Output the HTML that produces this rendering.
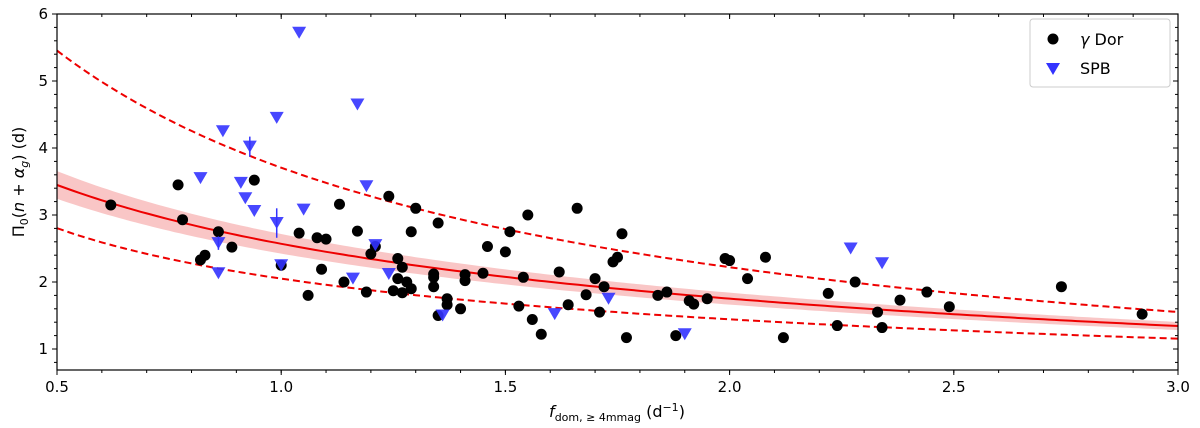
<!DOCTYPE html>
<html><head><meta charset="utf-8"><style>
html,body{margin:0;padding:0;background:#fff;}
svg{display:block;font-family:"DejaVu Sans","Liberation Sans",sans-serif;}
</style></head><body>
<svg id="chart" width="1200" height="428" viewBox="0 0 1200 428">
<g id="band"></g>
<g id="lines"></g>
<g id="points"></g>
<g id="axes"></g>
<g>
<rect x="1030" y="19" width="140" height="68" rx="3" fill="#fff" stroke="#ccc"/>
<circle cx="1053" cy="39" r="5.5" fill="#000"/>
<text x="1080" y="45" font-size="16"><tspan font-style="italic">γ</tspan> Dor</text>
<path d="M1046,63 L1060,63 L1053,75 Z" fill="#3333ff"/>
<text x="1080" y="74" font-size="16">SPB</text>
</g>
<text x="617" y="417" font-size="16" text-anchor="middle"><tspan font-style="italic">f</tspan><tspan font-size="11" dy="4">dom, ≥ 4mmag</tspan><tspan dy="-4"> (d</tspan><tspan font-size="11" dy="-6">−1</tspan><tspan dy="6">)</tspan></text>
<text transform="translate(24,182) rotate(-90)" font-size="16" text-anchor="middle">Π<tspan font-size="11" dy="4">0</tspan><tspan dy="-4">(</tspan><tspan font-style="italic">n</tspan> + <tspan font-style="italic">α</tspan><tspan font-size="11" dy="4" font-style="italic">g</tspan><tspan dy="-4">) (d)</tspan></text>
</svg>
<script>
const gdorX=[0.62,0.77,0.78,0.82,0.83,0.86,0.89,0.94,1.0,1.04,1.06,1.08,1.09,1.1,1.13,1.14,1.17,1.19,1.2,1.21,1.24,1.25,1.26,1.26,1.27,1.27,1.28,1.29,1.29,1.3,1.34,1.34,1.34,1.35,1.35,1.37,1.37,1.4,1.41,1.41,1.45,1.46,1.5,1.51,1.53,1.54,1.55,1.56,1.58,1.62,1.64,1.66,1.68,1.7,1.71,1.72,1.74,1.75,1.76,1.77,1.84,1.86,1.88,1.91,1.92,1.95,1.99,2.0,2.04,2.08,2.12,2.22,2.24,2.28,2.33,2.34,2.38,2.44,2.49,2.74,2.92];
const gdorY=[3.15,3.45,2.93,2.33,2.4,2.75,2.52,3.52,2.25,2.73,1.8,2.66,2.19,2.64,3.16,2.0,2.76,1.85,2.42,2.53,3.28,1.87,2.35,2.05,1.84,2.22,2.0,2.75,1.9,3.1,2.12,2.07,1.93,1.5,2.88,1.66,1.75,1.6,2.11,2.02,2.13,2.53,2.45,2.75,1.64,2.07,3.0,1.44,1.22,2.15,1.66,3.1,1.81,2.05,1.55,1.93,2.3,2.37,2.72,1.17,1.8,1.85,1.2,1.72,1.67,1.75,2.35,2.32,2.05,2.37,1.17,1.83,1.35,2.0,1.55,1.32,1.73,1.85,1.63,1.93,1.52];
const spbX=[0.82,0.86,0.86,0.87,0.91,0.92,0.93,0.94,0.99,0.99,1.0,1.04,1.05,1.16,1.17,1.19,1.21,1.24,1.36,1.61,1.73,1.9,2.27,2.34];
const spbY=[3.55,2.58,2.13,4.25,3.48,3.25,4.02,3.06,4.45,2.88,2.25,5.72,3.08,2.05,4.65,3.43,2.55,2.12,1.5,1.52,1.75,1.22,2.5,2.28];
const spbErr=[0,0.1,0,0,0,0,0.15,0,0,0.22,0,0,0,0,0,0,0,0,0,0,0,0,0,0];
// log-log quadratic fit coefficients: ln y = A + B ln x + C (ln x)^2
const fitMid=[0.944,-0.4885,-0.093], fitUp=[1.310,-0.648,-0.131], fitLo=[0.718,-0.479,-0.040];
const xTicks=[0.5,1.0,1.5,2.0,2.5,3.0];
const yTicks=[1,2,3,4,5,6];
const NS="http://www.w3.org/2000/svg";
const X0=57,X1=1178,Y0=14,Y1=370;
const sx=v=>X0+(v-0.5)/2.5*(X1-X0);
const sy=v=>349-(v-1)*67;
function mk(t,a,p){const e=document.createElementNS(NS,t);for(const k in a)e.setAttribute(k,a[k]);p.appendChild(e);return e;}
const f=(c,x)=>{const u=Math.log(x);return Math.exp(c[0]+c[1]*u+c[2]*u*u);};
const bw=x=>0.06-0.006*(x-0.5);
function path(c,s){let d="";for(let i=0;i<=200;i++){const x=0.5+2.5*i/200;d+=(i?"L":"M")+sx(x).toFixed(1)+","+sy(f(c,x)*(1+s*bw(x))).toFixed(1);}return d;}
const band=document.getElementById('band');
let bd=path(fitMid,1);
for(let i=200;i>=0;i--){const x=0.5+2.5*i/200;bd+="L"+sx(x).toFixed(1)+","+sy(f(fitMid,x)*(1-bw(x))).toFixed(1);}
const b=mk('path',{d:bd+"Z",fill:"#f8b8b8",opacity:"0.8"},band);


const L=document.getElementById('lines');
const lm=mk('path',{d:path(fitMid,0),fill:"none",stroke:"#e00",'stroke-width':2},L);


const lu=mk('path',{d:path(fitUp,0),fill:"none",stroke:"#e00",'stroke-width':2,'stroke-dasharray':"7,4"},L);


const ll=mk('path',{d:path(fitLo,0),fill:"none",stroke:"#e00",'stroke-width':2,'stroke-dasharray':"7,4"},L);


const P=document.getElementById('points');
gdorX.forEach((x,i)=>{const c=mk('circle',{cx:sx(x),cy:sy(gdorY[i]),r:5.5,fill:"#000"},P);

});
spbX.forEach((x,i)=>{const cx=sx(x),cy=sy(spbY[i]);
if(spbErr[i]){const e=mk('line',{x1:cx,x2:cx,y1:sy(spbY[i]+spbErr[i]),y2:sy(spbY[i]-spbErr[i]),stroke:"#3333ff",'stroke-width':1.5},P);

}
const t=mk('path',{d:`M${cx-7},${cy-6} L${cx+7},${cy-6} L${cx},${cy+6} Z`,fill:"#3333ff",opacity:"0.9"},P);

});
const A=document.getElementById('axes');
const fr=mk('rect',{x:X0,y:Y0,width:X1-X0,height:Y1-Y0,fill:"none",stroke:"#000",'stroke-width':1.2},A);


xTicks.forEach(v=>{const x=sx(v);
mk('line',{x1:x,x2:x,y1:Y1,y2:Y1+5,stroke:"#000"},A);mk('line',{x1:x,x2:x,y1:Y0,y2:Y0+5,stroke:"#000"},A);
const t=mk('text',{x:x,y:Y1+22,'font-size':15,'text-anchor':'middle'},A);t.textContent=v.toFixed(1);

});
for(let v=0.6;v<3;v+=0.1){const x=sx(v);mk('line',{x1:x,x2:x,y1:Y1,y2:Y1+3,stroke:"#000"},A);mk('line',{x1:x,x2:x,y1:Y0,y2:Y0+3,stroke:"#000"},A);}
yTicks.forEach(v=>{const y=sy(v);
mk('line',{x1:X0-5,x2:X0,y1:y,y2:y,stroke:"#000"},A);mk('line',{x1:X1-5,x2:X1,y1:y,y2:y,stroke:"#000"},A);
const t=mk('text',{x:X0-9,y:y+5,'font-size':15,'text-anchor':'end'},A);t.textContent=v;

});
for(let v=0.8;v<6;v+=0.2){const y=sy(v);if(y>Y1||y<Y0)continue;mk('line',{x1:X0-3,x2:X0,y1:y,y2:y,stroke:"#000"},A);mk('line',{x1:X1-3,x2:X1,y1:y,y2:y,stroke:"#000"},A);}
</script>
</body></html>
